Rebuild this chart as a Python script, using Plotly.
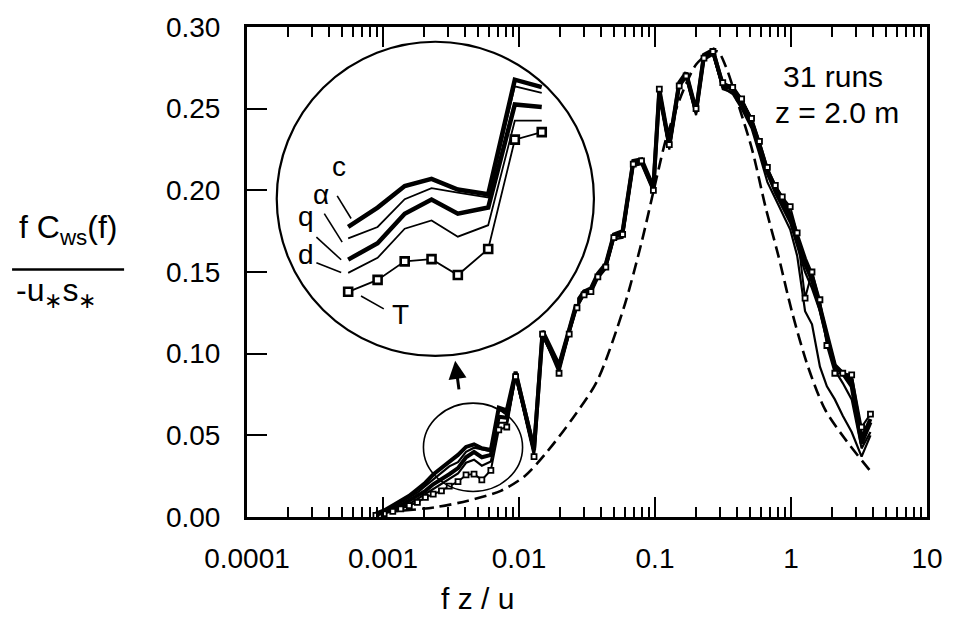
import plotly.graph_objects as go

# ---------------- data ----------------
fzu = [0.000887, 0.00102, 0.00118, 0.00135, 0.00156, 0.00179, 0.00205, 0.00234,
       0.00269, 0.00307, 0.00356, 0.00408, 0.00467, 0.00533, 0.00621, 0.00710,
       0.00813, 0.00944, 0.0129, 0.0149, 0.0197, 0.0234, 0.0267, 0.0301, 0.0338,
       0.0380, 0.0435, 0.0498, 0.0578, 0.0692, 0.0796, 0.0973, 0.1076, 0.1274,
       0.1507, 0.1694, 0.2004, 0.2291, 0.2667, 0.315, 0.3727, 0.4335, 0.5128,
       0.5864, 0.6707, 0.7670, 0.8628, 0.9867, 1.110, 1.269, 1.427, 1.632, 1.836,
       2.100, 2.402, 2.793, 3.304, 3.841]

c_vals = [0.002, 0.004, 0.007, 0.010, 0.013, 0.017, 0.021, 0.026, 0.030, 0.0336,
          0.0380, 0.0429, 0.0445, 0.0421, 0.0410, 0.0670, 0.0653,
          0.089, 0.041, 0.114, 0.093, 0.115, 0.132, 0.138, 0.140, 0.149, 0.155,
          0.173, 0.175, 0.218, 0.219, 0.202, 0.262, 0.228, 0.266, 0.272, 0.249,
          0.283, 0.286,
          0.264, 0.262, 0.254, 0.243, 0.228, 0.212, 0.202, 0.195, 0.185, 0.172,
          0.158, 0.148, 0.130, 0.112, 0.093, 0.088, 0.080, 0.045, 0.058]

alpha_vals = [0.002, 0.0035, 0.006, 0.009, 0.012, 0.015, 0.019, 0.023, 0.027, 0.0310,
              0.0336, 0.0399, 0.0424, 0.0414, 0.0403, 0.0655, 0.0640,
              0.088, 0.040, 0.113, 0.091, 0.114, 0.130, 0.137, 0.138, 0.147, 0.153,
              0.171, 0.173, 0.216, 0.217, 0.200, 0.259, 0.226, 0.264, 0.270, 0.247,
              0.281, 0.284,
              0.262, 0.260, 0.252, 0.240, 0.224, 0.210, 0.198, 0.190, 0.180, 0.166,
              0.150, 0.140, 0.126, 0.108, 0.090, 0.082, 0.072, 0.042, 0.052]

q_vals = [0.0015, 0.003, 0.005, 0.007, 0.010, 0.013, 0.016, 0.020, 0.023, 0.0262,
          0.0299, 0.0366, 0.0398, 0.0366, 0.0380, 0.0614, 0.0608,
          0.088, 0.042, 0.112, 0.092, 0.115, 0.131, 0.138, 0.139, 0.148, 0.154,
          0.172, 0.174, 0.217, 0.218, 0.201, 0.260, 0.227, 0.265, 0.271, 0.248,
          0.282, 0.285,
          0.265, 0.263, 0.255, 0.242, 0.226, 0.211, 0.200, 0.192, 0.183, 0.170,
          0.155, 0.145, 0.128, 0.110, 0.092, 0.088, 0.084, 0.048, 0.060]

d_vals = [0.001, 0.0025, 0.004, 0.006, 0.008, 0.011, 0.014, 0.017, 0.020, 0.0232,
          0.0266, 0.0332, 0.0351, 0.0314, 0.0340, 0.0577, 0.0577,
          0.086, 0.039, 0.111, 0.090, 0.113, 0.129, 0.136, 0.137, 0.146, 0.152,
          0.170, 0.171, 0.215, 0.216, 0.199, 0.258, 0.225, 0.263, 0.269, 0.246,
          0.280, 0.283,
          0.263, 0.259, 0.250, 0.238, 0.222, 0.205, 0.195, 0.186, 0.176, 0.160,
          0.126, 0.118, 0.092, 0.080, 0.072, 0.062, 0.052, 0.037, 0.050]

T_vals = [0.001, 0.002, 0.0035, 0.005, 0.007, 0.009, 0.012, 0.014, 0.016, 0.0189,
          0.0216, 0.0258, 0.0263, 0.0227, 0.0286, 0.0534, 0.0551,
          0.086, 0.037, 0.112, 0.088, 0.112, 0.128, 0.136, 0.138, 0.147, 0.153,
          0.171, 0.173, 0.216, 0.218, 0.200, 0.262, 0.228, 0.264, 0.270, 0.250,
          0.281, 0.285,
          0.266, 0.263, 0.256, 0.244, 0.230, 0.214, 0.203, 0.196, 0.190, 0.174,
          0.134, 0.150, 0.133, 0.105, 0.088, 0.088, 0.087, 0.055, 0.063]

model_fzu = [0.00105, 0.00243, 0.00422, 0.00735, 0.0110, 0.0161, 0.0246, 0.0374,
             0.0589, 0.0796, 0.1023, 0.1211, 0.1611, 0.2004, 0.2495, 0.2897, 0.3311,
             0.4121, 0.5212, 0.6486, 0.8072, 1.021, 1.334, 1.774, 2.483, 3.846]
model_vals = [0.003, 0.006, 0.010, 0.016, 0.025, 0.040, 0.060, 0.083, 0.128, 0.168,
              0.207, 0.232, 0.261, 0.277, 0.284, 0.285, 0.276, 0.252, 0.224, 0.190,
              0.160, 0.125, 0.092, 0.066, 0.048, 0.028]

x_tickvals = [1e-4, 1e-3, 1e-2, 1e-1, 1, 10]
x_ticktext = ["0.0001", "0.001", "0.01", "0.1", "1", "10"]
y_tickvals = [0.0, 0.05, 0.10, 0.15, 0.20, 0.25, 0.30]

inset_first, inset_last = 9, 16   # points shown magnified in the inset

# ---------------- layout helpers ----------------
W, H = 955, 628
L, R, T, B = 247, 933, 18, 517
FONT = "Liberation Sans, Arial, Helvetica, sans-serif"


def px(x):
    return (x - L) / (R - L)


def py(y):
    return (B - y) / (B - T)


# name, values, main width, inset width, markers
series = [
    ("d", d_vals, 2.2, 1.8, False),
    ("α", alpha_vals, 2.2, 1.8, False),
    ("q", q_vals, 4.0, 4.5, False),
    ("c", c_vals, 4.0, 4.5, False),
    ("T", T_vals, 2.0, 1.8, True),
]

fig = go.Figure()

fig.add_trace(go.Scatter(x=model_fzu, y=model_vals, mode="lines",
                         line=dict(color="black", width=2.6, dash="12px,6px",
                                   shape="spline", smoothing=0.8),
                         showlegend=False, hoverinfo="skip"))

for name, vals, w, wi, markers in series:
    fig.add_trace(go.Scatter(
        x=fzu, y=vals, name=name,
        mode="lines+markers" if markers else "lines",
        line=dict(color="black", width=w),
        marker=dict(symbol="square", size=5, color="white",
                    line=dict(color="black", width=1.8)),
        showlegend=False, xaxis="x", yaxis="y"))

# inset (magnified view of the circled region)
sl = slice(inset_first, inset_last + 1)
for name, vals, w, wi, markers in series:
    fig.add_trace(go.Scatter(
        x=fzu[sl], y=vals[sl], name=name + " (inset)",
        mode="lines+markers" if markers else "lines",
        line=dict(color="black", width=wi),
        marker=dict(symbol="square", size=8, color="white",
                    line=dict(color="black", width=2.6)),
        showlegend=False, xaxis="x2", yaxis="y2"))

minor_vals = [m * 10 ** e for e in range(-4, 1) for m in range(2, 10)]

fig.update_layout(
    width=W, height=H,
    margin=dict(l=L, r=W - R, t=T, b=H - B),
    paper_bgcolor="white", plot_bgcolor="white",
    font=dict(family=FONT, color="black", size=28),
    xaxis=dict(type="log", range=[-4, 1], tickmode="array",
               tickvals=x_tickvals, ticktext=x_ticktext,
               ticks="inside", ticklen=20, tickwidth=2, tickcolor="black",
               minor=dict(ticks="inside", ticklen=10, tickwidth=2,
                          tickcolor="black", tickmode="array",
                          tickvals=minor_vals),
               showline=True, linewidth=3, linecolor="black", mirror="ticks",
               showgrid=False, zeroline=False, ticklabelstandoff=14,
               tickfont=dict(size=28)),
    yaxis=dict(range=[0, 0.30], tickmode="array", tickvals=y_tickvals,
               tickformat=".2f", ticks="inside", ticklen=20, tickwidth=2,
               tickcolor="black", showline=True, linewidth=3,
               linecolor="black", mirror=True, showgrid=False,
               zeroline=False, ticklabelstandoff=18, tickfont=dict(size=28)),
    xaxis2=dict(type="log", domain=[px(300), px(580)],
                range=[-2.6191, -2.0127], anchor="y2", visible=False,
                showgrid=False, zeroline=False),
    yaxis2=dict(domain=[py(300), py(60)], range=[0.01615, 0.0696],
                anchor="x2", visible=False, showgrid=False, zeroline=False),
)

shapes = [
    # big inset circle
    dict(type="circle", xref="paper", yref="paper",
         x0=px(277), x1=px(597), y0=py(353), y1=py(33),
         line=dict(color="black", width=2.2)),
    # small circle marking the magnified region
    dict(type="circle", xref="paper", yref="paper",
         x0=px(425), x1=px(525), y0=py(491), y1=py(401),
         line=dict(color="black", width=1.6)),
    # fraction bar of the y-axis label
    dict(type="line", xref="paper", yref="paper",
         x0=px(10), x1=px(123), y0=py(265), y1=py(265),
         line=dict(color="black", width=2.5)),
]
# leader lines for the inset labels
for (x0, y0, x1, y1) in [(338, 190, 352, 213), (325, 208, 343, 237),
                         (317, 232, 342, 255), (317, 258, 342, 268),
                         (362, 292, 385, 305)]:
    shapes.append(dict(type="line", xref="paper", yref="paper",
                       x0=px(x0), y0=py(y0), x1=px(x1), y1=py(y1),
                       line=dict(color="black", width=1.6)))
fig.update_layout(shapes=shapes)

ann = []
for txt, x, y in [("c", 340, 160), ("α", 322, 189), ("q", 307, 211),
                  ("d", 307, 250), ("T", 402, 311)]:
    ann.append(dict(text=txt, x=px(x), y=py(y), xref="paper", yref="paper",
                    showarrow=False, xanchor="center", yanchor="middle",
                    font=dict(size=28)))
ann += [
    dict(text="31 runs", x=px(838), y=py(68), xref="paper", yref="paper",
         showarrow=False, xanchor="center", yanchor="middle",
         font=dict(size=30)),
    dict(text="z = 2.0 m", x=px(842), y=py(105), xref="paper", yref="paper",
         showarrow=False, xanchor="center", yanchor="middle",
         font=dict(size=30)),
    dict(text="f z / u", x=px(480), y=py(600), xref="paper", yref="paper",
         showarrow=False, xanchor="center", yanchor="middle",
         font=dict(size=30)),
    dict(text="f C<sub>ws</sub>(f)", x=px(66), y=py(224), xref="paper",
         yref="paper", showarrow=False, xanchor="center", yanchor="middle",
         font=dict(size=32)),
    dict(text="-u<sub>∗</sub>s<sub>∗</sub>", x=px(54), y=py(288),
         xref="paper", yref="paper", showarrow=False, xanchor="center",
         yanchor="middle", font=dict(size=32)),
    # arrow from small circle to the inset
    dict(text="", x=px(457), y=py(358), xref="paper", yref="paper",
         showarrow=True, ax=4, ay=30, arrowhead=2, arrowsize=1.2,
         arrowwidth=3, arrowcolor="black"),
]
fig.update_layout(annotations=ann)

fig.write_html("out.html")
